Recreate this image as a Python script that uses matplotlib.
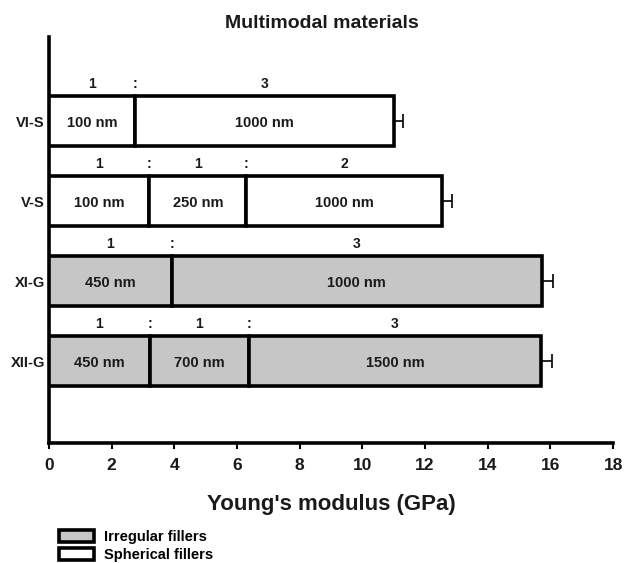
import matplotlib
matplotlib.use("Agg")
import matplotlib.pyplot as plt
from matplotlib.patches import Patch

plt.rcParams['font.family'] = ['Liberation Sans', 'DejaVu Sans']
plt.rcParams['font.weight'] = 'bold'

# Data (top to bottom in the picture)
samples = ["VI-S", "V-S", "XI-G", "XII-G"]
segments = [
    [2.76, 8.24],
    [3.2, 3.1, 6.25],
    [3.92, 11.8],
    [3.22, 3.16, 9.32],
]
seg_labels = [
    ["100 nm", "1000 nm"],
    ["100 nm", "250 nm", "1000 nm"],
    ["450 nm", "1000 nm"],
    ["450 nm", "700 nm", "1500 nm"],
]
ratios = [
    ["1", "3"],
    ["1", "1", "2"],
    ["1", "3"],
    ["1", "1", "3"],
]
filler_type = ["Spherical", "Spherical", "Irregular", "Irregular"]
errors = [0.28, 0.3, 0.35, 0.35]

colors = {"Irregular": "#c6c6c6", "Spherical": "white"}
tc = '#1a1a1a'

fig = plt.figure(figsize=(6.25, 5.63), dpi=100)
ax = fig.add_axes([0.0784, 0.2131, 0.9026, 0.7209])

n = len(samples)
ypos = [n - 1 - i for i in range(n)]
h = 0.625
lw = 2.6

for i, (y, segs) in enumerate(zip(ypos, segments)):
    left = 0.0
    for j, w in enumerate(segs):
        ax.barh(y, w, left=left, height=h, color=colors[filler_type[i]],
                edgecolor='black', linewidth=lw, zorder=3)
        ax.text(left + w / 2, y - 0.02, seg_labels[i][j], ha='center', va='center',
                fontsize=10.5, fontweight='bold', color=tc, zorder=4)
        ax.text(left + w / 2, y + 0.46, ratios[i][j], ha='center', va='center',
                fontsize=10, fontweight='bold', color=tc)
        if j > 0:
            ax.text(left, y + 0.46, ":", ha='center', va='center',
                    fontsize=10, fontweight='bold', color=tc)
        left += w
    ax.errorbar(left, y, xerr=[[0], [errors[i]]], fmt='none', ecolor='black',
                elinewidth=1.2, capsize=5, capthick=1.2, zorder=2)

ax.set_xlim(0, 18)
ax.set_ylim(-1.025, 4.05)
ax.set_xticks(range(0, 19, 2))
ax.set_xticklabels([str(v) for v in range(0, 19, 2)], fontsize=12.5, fontweight='bold', color=tc)
ax.set_yticks(ypos)
ax.set_yticklabels(samples, fontsize=10.5, fontweight='bold', color=tc)
ax.tick_params(axis='y', length=0, pad=3)
ax.tick_params(axis='x', length=4, width=1.5, pad=7)
for s in ['top', 'right']:
    ax.spines[s].set_visible(False)
for s in ['left', 'bottom']:
    ax.spines[s].set_linewidth(2.6)

ax.set_xlabel("Young's modulus (GPa)", fontsize=16, fontweight='bold', labelpad=15, color=tc)
fig.text(0.515, 0.958, "Multimodal materials", ha='center', va='center',
         fontsize=14, fontweight='bold', color=tc)

handles = [Patch(facecolor=colors["Irregular"], edgecolor='black', linewidth=2.6, label="Irregular fillers"),
           Patch(facecolor=colors["Spherical"], edgecolor='black', linewidth=2.6, label="Spherical fillers")]
fig.legend(handles=handles, loc='lower left', bbox_to_anchor=(0.094, 0.0), frameon=False,
           prop={'size': 10.5, 'weight': 'bold'}, handlelength=2.4, handleheight=0.9,
           labelspacing=0.3, handletextpad=0.65, borderpad=0.05, borderaxespad=0.0)

fig.savefig("out.png", dpi=100)
